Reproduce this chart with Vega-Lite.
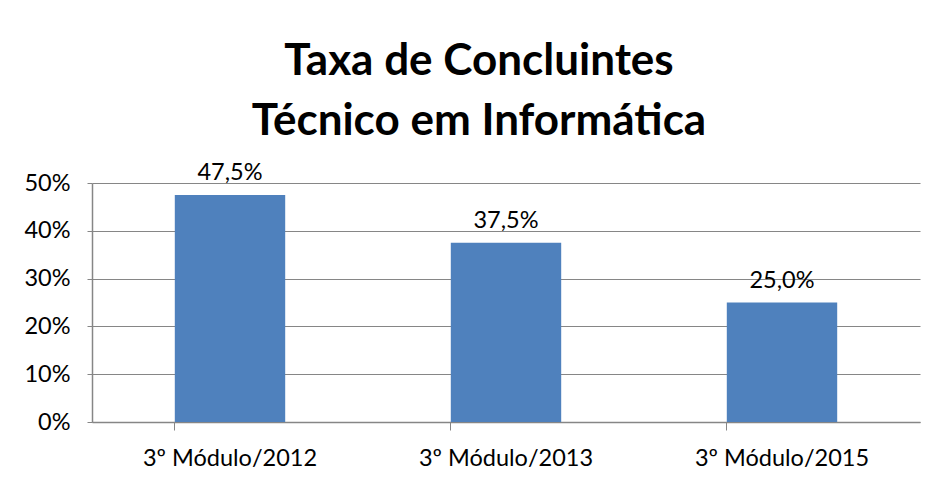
{
  "$schema": "https://vega.github.io/schema/vega-lite/v6.json",
  "autosize": "none",
  "width": 828,
  "height": 239,
  "padding": {"left": 92, "top": 183, "right": 17, "bottom": 62},
  "background": "white",
  "config": {
    "locale": {"number": {"decimal": ",", "thousands": ".", "grouping": [3], "currency": ["R$", ""]}},
    "font": "Lato",
    "view": {"stroke": null}
  },
  "title": {
    "text": ["Taxa de Concluintes", "Técnico em Informática"],
    "font": "Lato",
    "fontSize": 44,
    "fontWeight": "bold",
    "color": "#000000",
    "anchor": "middle",
    "dx": -27,
    "lineHeight": 60,
    "offset": 17
  },
  "data": {
    "values": [
      {"modulo": "3º Módulo/2012", "taxa": 0.475},
      {"modulo": "3º Módulo/2013", "taxa": 0.375},
      {"modulo": "3º Módulo/2015", "taxa": 0.25}
    ]
  },
  "encoding": {
    "x": {
      "field": "modulo",
      "type": "nominal",
      "sort": null,
      "scale": {"paddingInner": 0.6, "paddingOuter": 0.3},
      "axis": {
        "title": null,
        "labelAngle": 0,
        "labelFont": "Lato",
        "labelFontSize": 23.5,
        "labelColor": "#000000",
        "labelPadding": 16,
        "bandPosition": 0,
        "ticks": true,
        "tickSize": 8,
        "tickColor": "#868686",
        "domainColor": "#868686",
        "domainWidth": 1.5,
        "grid": false
      }
    },
    "y": {
      "field": "taxa",
      "type": "quantitative",
      "scale": {"domain": [0, 0.5]},
      "axis": {
        "title": null,
        "format": ".0%",
        "values": [0, 0.1, 0.2, 0.3, 0.4, 0.5],
        "labelFont": "Lato",
        "labelFontSize": 23.5,
        "labelColor": "#000000",
        "labelPadding": 17,
        "tickSize": 5,
        "tickColor": "#868686",
        "domainColor": "#868686",
        "domainWidth": 1.5,
        "gridColor": "#868686",
        "gridWidth": 1.2
      }
    }
  },
  "layer": [
    {"mark": {"type": "bar", "color": "#4F81BD"}},
    {
      "mark": {"type": "text", "baseline": "bottom", "dy": -10, "fontSize": 23.5, "font": "Lato", "color": "#000000"},
      "encoding": {"text": {"field": "taxa", "type": "quantitative", "format": ".1%"}}
    }
  ]
}
